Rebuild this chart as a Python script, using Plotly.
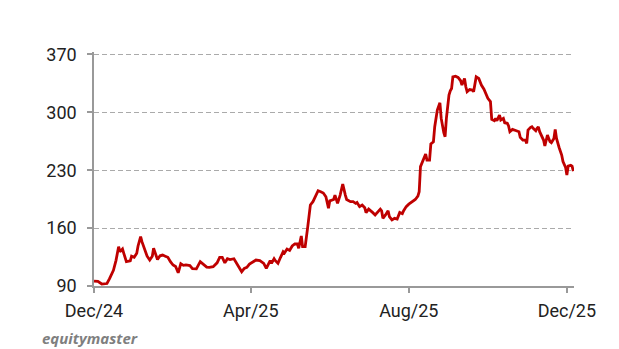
import plotly.graph_objects as go

dates = [
    "2024-12-01", "2024-12-04", "2024-12-07", "2024-12-11", "2024-12-13", "2024-12-16", "2024-12-18", "2024-12-20",
    "2024-12-21", "2024-12-23", "2024-12-24", "2024-12-26", "2024-12-29", "2024-12-30", "2025-01-01", "2025-01-03",
    "2025-01-04", "2025-01-06", "2025-01-07", "2025-01-09", "2025-01-11", "2025-01-13", "2025-01-15", "2025-01-16",
    "2025-01-18", "2025-01-19", "2025-01-21", "2025-01-23", "2025-01-25", "2025-01-27", "2025-01-29", "2025-01-31",
    "2025-02-02", "2025-02-04", "2025-02-06", "2025-02-08", "2025-02-10", "2025-02-13", "2025-02-15", "2025-02-18",
    "2025-02-21", "2025-02-23", "2025-02-26", "2025-02-28", "2025-03-03", "2025-03-06", "2025-03-08", "2025-03-10",
    "2025-03-12", "2025-03-14", "2025-03-16", "2025-03-19", "2025-03-21", "2025-03-23", "2025-03-25", "2025-03-27",
    "2025-03-29", "2025-03-31", "2025-04-03", "2025-04-05", "2025-04-08", "2025-04-11", "2025-04-13", "2025-04-14",
    "2025-04-16", "2025-04-17", "2025-04-19", "2025-04-20", "2025-04-22", "2025-04-24", "2025-04-26", "2025-04-27",
    "2025-04-29", "2025-05-01", "2025-05-03", "2025-05-05", "2025-05-07", "2025-05-08", "2025-05-10", "2025-05-11",
    "2025-05-13", "2025-05-15", "2025-05-17", "2025-05-19", "2025-05-21", "2025-05-23", "2025-05-25", "2025-05-27",
    "2025-05-29", "2025-05-31", "2025-06-01", "2025-06-04", "2025-06-05", "2025-06-07", "2025-06-09", "2025-06-11",
    "2025-06-13", "2025-06-14", "2025-06-17", "2025-06-19", "2025-06-21", "2025-06-22", "2025-06-24", "2025-06-26",
    "2025-06-28", "2025-06-29", "2025-07-01", "2025-07-02", "2025-07-04", "2025-07-06", "2025-07-08", "2025-07-10",
    "2025-07-11", "2025-07-12", "2025-07-14", "2025-07-16", "2025-07-17", "2025-07-19", "2025-07-21", "2025-07-23",
    "2025-07-25", "2025-07-27", "2025-07-28", "2025-07-30", "2025-08-01", "2025-08-03", "2025-08-06", "2025-08-08",
    "2025-08-09", "2025-08-10", "2025-08-12", "2025-08-14", "2025-08-15", "2025-08-17", "2025-08-18", "2025-08-20",
    "2025-08-21", "2025-08-23", "2025-08-25", "2025-08-26", "2025-08-28", "2025-08-29", "2025-08-30", "2025-09-01",
    "2025-09-02", "2025-09-03", "2025-09-04", "2025-09-06", "2025-09-08", "2025-09-10", "2025-09-11", "2025-09-12",
    "2025-09-13", "2025-09-14", "2025-09-15", "2025-09-17", "2025-09-19", "2025-09-20", "2025-09-21", "2025-09-22",
    "2025-09-24", "2025-09-25", "2025-09-26", "2025-09-28", "2025-09-30", "2025-10-01", "2025-10-03", "2025-10-04",
    "2025-10-06", "2025-10-07", "2025-10-08", "2025-10-10", "2025-10-11", "2025-10-13", "2025-10-14", "2025-10-16",
    "2025-10-17", "2025-10-18", "2025-10-20", "2025-10-21", "2025-10-23", "2025-10-25", "2025-10-26", "2025-10-28",
    "2025-10-30", "2025-10-31", "2025-11-01", "2025-11-03", "2025-11-04", "2025-11-05", "2025-11-07", "2025-11-08",
    "2025-11-09", "2025-11-10", "2025-11-12", "2025-11-13", "2025-11-14", "2025-11-16", "2025-11-17", "2025-11-18",
    "2025-11-19", "2025-11-21", "2025-11-22", "2025-11-23", "2025-11-25", "2025-11-27", "2025-11-28", "2025-11-30",
    "2025-12-01", "2025-12-02", "2025-12-04", "2025-12-05", "2025-12-06",
]

prices = [
    96, 95.6, 92.4, 93, 98.9, 109, 121, 137.5,
    131.5, 134.7, 129.5, 119.4, 120.5, 126, 124.7, 129.5,
    138.4, 149.6, 143.6, 133.5, 126, 121.4, 126, 135.6,
    127.4, 122, 126.5, 127.4, 126, 124.7, 119.4, 115.4,
    113.5, 106, 117, 115, 115.5, 114.8, 111, 110.8,
    119.4, 116.4, 112.8, 112.5, 113.3, 118, 124.7, 124.7,
    118, 123, 122, 123, 118, 111.4, 107.3, 111.4,
    112.5, 116.4, 119.4, 121.4, 120.6, 117.4, 111.4, 114,
    120.6, 117.4, 123, 120.6, 117.4, 124.7, 131.5, 129.8,
    134.7, 133, 138.4, 140.8, 140.8, 135.6, 150.5, 137.5,
    137.5, 161.8, 188, 192, 198, 205.2, 204, 202.5,
    198, 184, 193, 194.6, 200, 190, 200, 213.3,
    200, 194.6, 192, 192, 190, 191, 186, 188,
    184.6, 178.7, 183, 182, 179, 176, 179, 183,
    181, 171.8, 176, 181, 174, 170, 171.8, 171,
    179, 177.5, 181, 186, 189, 191, 194.6, 198.8,
    204, 234.3, 242.3, 249.6, 242.3, 242.3, 261.7, 264.5,
    282.6, 302.8, 311.6, 292.7, 275.4, 270.5, 292.7, 320.9,
    326, 328.8, 343, 343.8, 342.2, 338.2, 333, 338,
    341, 331, 325, 327.6, 327, 325, 334.5, 343,
    341, 337, 333, 328, 319, 317, 313, 291.5,
    289.9, 292.7, 289.9, 296.7, 290.7, 292.7, 287.5, 286.8,
    283.5, 276.6, 279.4, 278.6, 277.8, 276.6, 269.7, 266.5,
    266.5, 262.5, 278.6, 281.9, 282.6, 280.6, 277.8, 280.6,
    282.6, 276.6, 270.5, 266.5, 259.3, 272.6, 268.5, 264.5,
    263.3, 268.5, 279.4, 268.5, 257.5, 248.4, 240.4, 233.5,
    224.2, 235, 236, 235, 228.8,
]

x_tick_vals = ["2024-12-01", "2025-04-01", "2025-08-01", "2025-12-01"]
x_tick_text = ["Dec/24", "Apr/25", "Aug/25", "Dec/25"]
y_tick_vals = [90, 160, 230, 300, 370]

fig = go.Figure()
fig.add_trace(go.Scatter(
    x=dates, y=prices, mode="lines",
    line=dict(color="#bf0000", width=2.8),
    hoverinfo="skip", showlegend=False,
))

fig.update_layout(
    width=619, height=349,
    margin=dict(l=94, r=45, t=52, b=63),
    paper_bgcolor="white", plot_bgcolor="white",
    font=dict(family="Roboto", size=18, color="#222222"),
    showlegend=False,
    xaxis=dict(
        type="date",
        range=["2024-12-01", "2025-12-06 12:00"],
        tickvals=x_tick_vals, ticktext=x_tick_text,
        showgrid=False, zeroline=False,
        showline=True, linecolor="#999999", linewidth=1.5,
        ticks="outside", ticklen=5, tickcolor="#999999", tickwidth=1.5,
        ticklabelstandoff=3,
        tickfont=dict(family="Roboto", size=18, color="#222222"),
    ),
    yaxis=dict(
        range=[90, 373],
        tickvals=y_tick_vals,
        showgrid=True, gridcolor="#aaaaaa", griddash="5px,3px", gridwidth=1,
        zeroline=False,
        showline=True, linecolor="#999999", linewidth=1.5,
        ticks="outside", ticklen=5, tickcolor="#999999", tickwidth=1.5,
        ticklabelstandoff=7,
        tickfont=dict(family="Roboto", size=18, color="#222222"),
    ),
    annotations=[dict(
        text="<b><i>equitymaster</i></b>",
        xref="paper", yref="paper",
        x=-54 / 480, y=-52 / 234,
        xanchor="left", yanchor="middle", showarrow=False,
        font=dict(family="Open Sans", size=15, color="#7f7f7f"),
    )],
)

fig.write_html("out.html")
